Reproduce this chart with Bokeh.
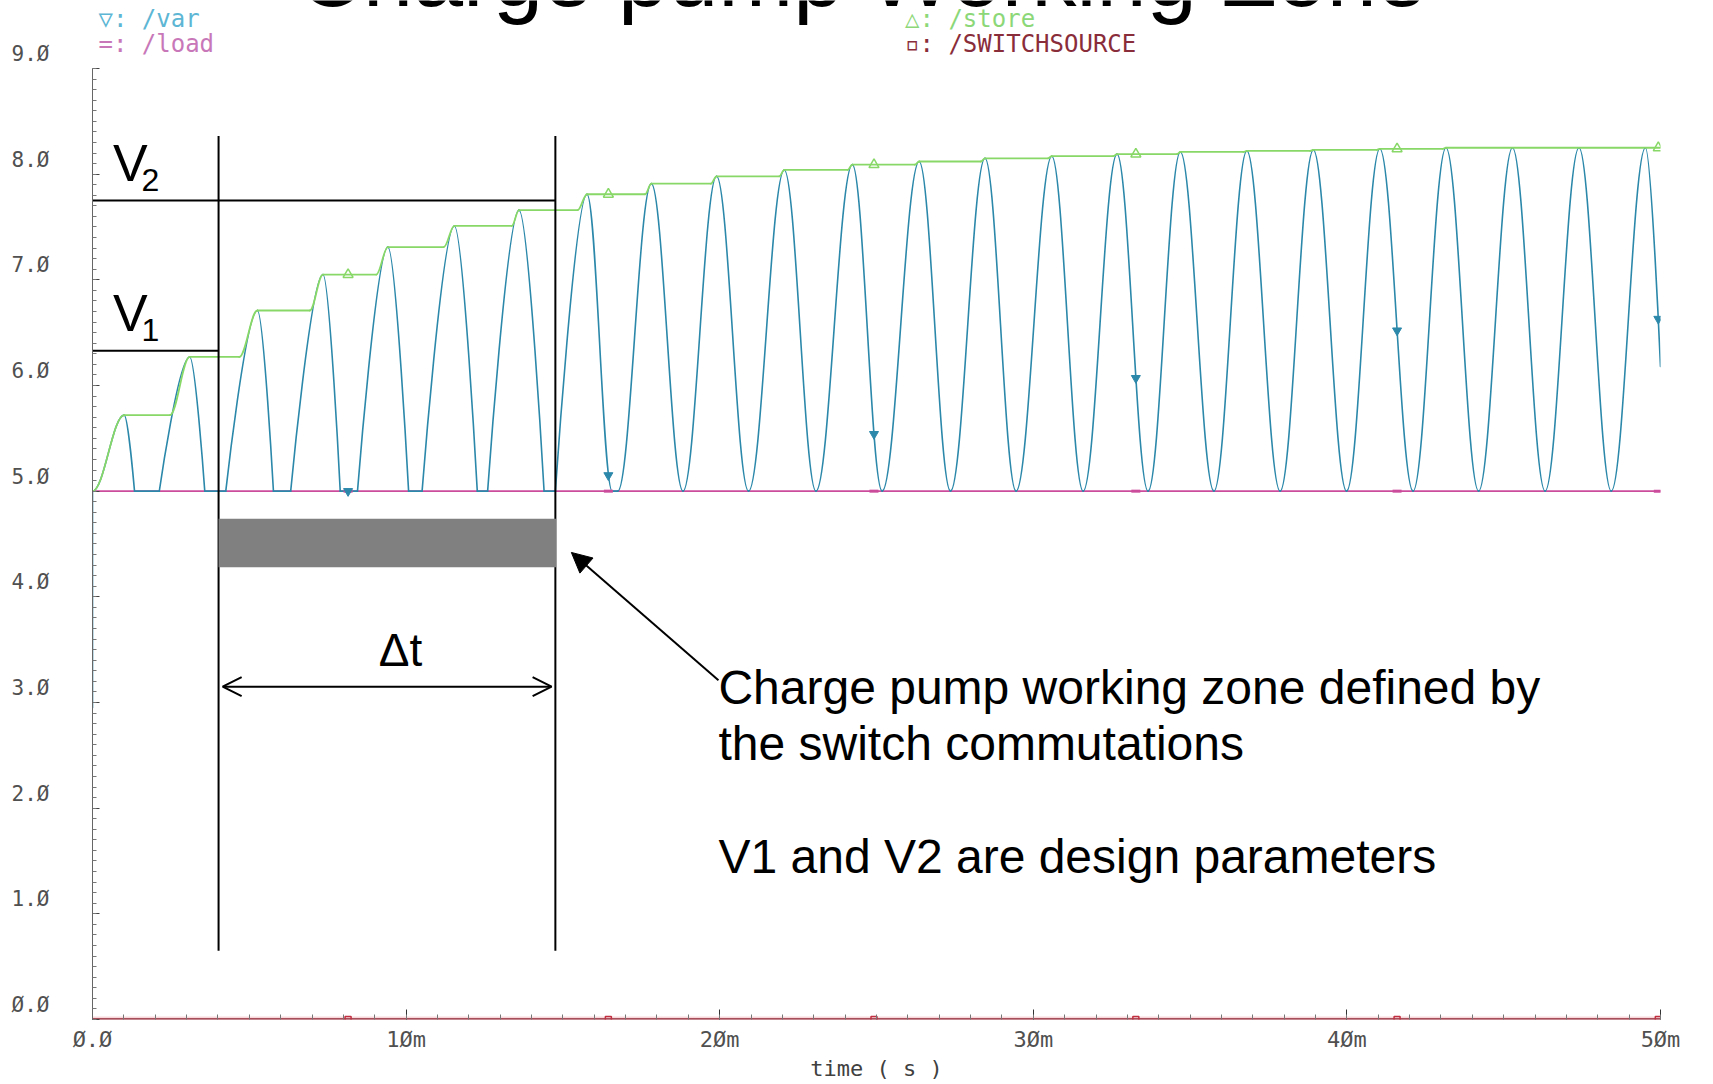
import numpy as np
from bokeh.plotting import figure
from bokeh.models import (Range1d, FixedTicker, Label, Arrow, OpenHead, NormalHead,
                          ColumnDataSource)
from bokeh.embed import file_html
from bokeh.resources import INLINE

# ---------------- data (time in ms, voltage in V): extrema / corners ----------------
var_t = [0.0, 0.0, 1.01, 1.34, 2.13, 3.10, 3.58, 4.25, 5.26, 5.77, 6.32, 7.35, 7.90, 8.45,
         9.42, 10.08, 10.51, 11.54, 12.27, 12.60, 13.60, 14.40, 14.76, 15.77, 16.57, 16.75,
         17.82, 18.83, 19.90, 20.92, 22.06, 23.07, 24.23, 25.18, 26.36, 27.36, 28.46, 29.45,
         30.59, 31.59, 32.67, 33.66, 34.69, 35.76, 36.81, 37.87, 38.93, 39.99, 41.05, 42.11,
         43.16, 44.20, 45.28, 46.32, 47.40, 48.43, 49.52, 50.00]
var_v = [2.95, 5.00, 5.72, 5.00, 5.00, 6.27, 5.00, 5.00, 6.71, 5.00, 5.00, 7.05, 5.00, 5.00,
         7.31, 5.00, 5.00, 7.51, 5.00, 5.00, 7.66, 5.00, 5.00, 7.81, 5.00, 5.00,
         7.91, 5.00, 7.98, 5.00, 8.04, 5.00, 8.09, 5.00, 8.12, 5.00, 8.15, 5.00,
         8.17, 5.00, 8.19, 5.00, 8.21, 5.00, 8.22, 5.00, 8.23, 5.00, 8.24, 5.00,
         8.25, 5.00, 8.25, 5.00, 8.25, 5.00, 8.25, 6.18]

store_t = [0.0, 1.01, 2.47, 3.10, 4.68, 5.26, 6.93, 7.35, 9.05, 9.42, 11.20, 11.54, 13.37, 13.60,
           15.47, 15.77, 17.62, 17.82, 19.72, 19.90, 21.90, 22.06, 24.08, 24.23, 26.22, 26.36,
           28.33, 28.46, 30.47, 30.59, 32.55, 32.67, 34.58, 34.69, 36.70, 36.81, 38.83, 38.93,
           40.95, 41.05, 43.06, 43.16, 50.0]
store_v = [5.00, 5.72, 5.72, 6.27, 6.27, 6.71, 6.71, 7.05, 7.05, 7.31, 7.31, 7.51, 7.51, 7.66,
           7.66, 7.81, 7.81, 7.91, 7.91, 7.98, 7.98, 8.04, 8.04, 8.09, 8.09, 8.12,
           8.12, 8.15, 8.15, 8.17, 8.17, 8.19, 8.19, 8.21, 8.21, 8.22, 8.22, 8.23,
           8.23, 8.24, 8.24, 8.25, 8.25]

load_t = [0.0, 50.0]
load_v = [5.0, 5.0]
switch_t = [0.0, 50.0]
switch_v = [0.0, 0.0]

marker_t = [8.15, 16.45, 24.92, 33.27, 41.60, 49.93]
var_marker_v = [5.00, 5.15, 5.54, 6.07, 6.52, 6.63]
store_marker_v = [7.05, 7.81, 8.09, 8.19, 8.24, 8.25]
load_marker_v = [5.0, 5.0, 5.0, 5.0, 5.0, 5.0]
switch_marker_v = [0.0, 0.0, 0.0, 0.0, 0.0, 0.0]

x_ticks = [0, 10, 20, 30, 40, 50]
x_labels = ["Ø.Ø", "1Øm", "2Øm", "3Øm", "4Øm", "5Øm"]
y_ticks = [0, 1, 2, 3, 4, 5, 6, 7, 8, 9]
y_labels = ["Ø.Ø", "1.Ø", "2.Ø", "3.Ø", "4.Ø", "5.Ø", "6.Ø", "7.Ø", "8.Ø", "9.Ø"]

# annotation parameters (data units)
V1_LEVEL, V2_LEVEL = 6.33, 7.75
T_START, T_END = 4.02, 14.76
ZONE_TOP, ZONE_BOTTOM = 8.36, 0.65
BAR_TOP, BAR_BOTTOM = 4.74, 4.28
DT_LEVEL = 3.15

assert len(var_t) == len(var_v)
assert len(store_t) == len(store_v)

VAR_C = "#2C88AA"
STORE_C = "#88D868"
LOAD_C = "#CC4C9C"
SW_C = "#8E2232"
TXT = "#505050"
MONO = "DejaVu Sans Mono"
SANS = "Liberation Sans"

Y_TOP = 9.0 + 68.0 / 105.67   # room above the 9 V tick for legend / title

p = figure(width=1713, height=1084, output_backend="svg", toolbar_location=None,
           x_range=Range1d(0, 50), y_range=Range1d(0, Y_TOP),
           min_border_left=92, min_border_right=53, min_border_top=0, min_border_bottom=65)
p.outline_line_color = None
p.xgrid.visible = False
p.ygrid.visible = False
p.background_fill_color = "white"
p.border_fill_color = "white"

# ---------------- axes ----------------
xa = p.xaxis[0]
xa.ticker = FixedTicker(ticks=x_ticks, minor_ticks=list(np.arange(0, 50.5, 1.0)))
xa.major_label_overrides = {t: l for t, l in zip(x_ticks, x_labels)}
xa.axis_line_color = None
xa.major_tick_in, xa.major_tick_out = 10, 0
xa.minor_tick_in, xa.minor_tick_out = 5, 0
xa.major_tick_line_color = "#333333"
xa.minor_tick_line_color = "#777777"
xa.major_label_text_font = MONO
xa.major_label_text_font_size = "22px"
xa.major_label_text_color = TXT
xa.major_label_standoff = 7
xa.axis_label = "time ( s )"
xa.axis_label_text_font = MONO
xa.axis_label_text_font_style = "normal"
xa.axis_label_text_font_size = "22px"
xa.axis_label_text_color = "#404040"
xa.axis_label_standoff = 1

ya = p.yaxis[0]
ya.bounds = (0, 9)
ya.ticker = FixedTicker(ticks=y_ticks, minor_ticks=list(np.round(np.arange(0, 9.05, 0.1), 2)))
ya.major_label_overrides = {t: l + "\n" for t, l in zip(y_ticks, y_labels)}
ya.axis_line_color = "#666666"
ya.major_tick_in, ya.major_tick_out = 7, 0
ya.minor_tick_in, ya.minor_tick_out = 4, 0
ya.major_tick_line_color = "#444444"
ya.minor_tick_line_color = "#777777"
ya.major_label_text_font = MONO
ya.major_label_text_font_size = "21px"
ya.major_label_text_color = TXT
ya.major_label_standoff = 43

# ---------------- traces (smooth segments between the read extrema) ----------------
C_SINE = 0.3642
LONG_FLAT = 0.3   # a clipped (flat) stretch at least this long meets the slope with a sharp corner

def smooth_source(ts, vs, open_end=False, sharp_corners=False):
    d = {k: [] for k in ("x0", "y0", "x1", "y1", "cx0", "cy0", "cx1", "cy1")}
    n = len(ts)

    def long_flat(j):
        return 0 <= j < n - 1 and vs[j] == vs[j + 1] and (ts[j + 1] - ts[j]) >= LONG_FLAT

    for i in range(n - 1):
        a, b, va, vb = ts[i], ts[i + 1], vs[i], vs[i + 1]
        w = b - a
        c0 = 0.0 if (sharp_corners and va != vb and long_flat(i - 1)) else C_SINE
        c1 = 0.0 if (sharp_corners and va != vb and long_flat(i + 1)) else C_SINE
        if open_end and i == n - 2:
            c1 = 0.0
        d["x0"].append(a); d["y0"].append(va); d["x1"].append(b); d["y1"].append(vb)
        d["cx0"].append(a + c0 * w); d["cy0"].append(va)
        d["cx1"].append(b - c1 * w); d["cy1"].append(vb)
    return ColumnDataSource(d)

BZ = dict(x0="x0", y0="y0", x1="x1", y1="y1", cx0="cx0", cy0="cy0", cx1="cx1", cy1="cy1")

p.line(switch_t, switch_v, line_color="#F0A8B0", line_width=6, line_alpha=0.45)
p.line(switch_t, switch_v, line_color=SW_C, line_width=2.4)
p.line(load_t, load_v, line_color=LOAD_C, line_width=1.6)
p.bezier(source=smooth_source(var_t, var_v, open_end=True, sharp_corners=True),
         line_color=VAR_C, line_width=1.6, line_cap="round", **BZ)
p.bezier(source=smooth_source(store_t, store_v), line_color=STORE_C,
         line_width=1.8, line_cap="round", **BZ)

p.scatter(marker_t, switch_marker_v, marker="square", size=6, fill_color=None,
          line_color="#C03040", line_width=1.5)
p.scatter(marker_t, load_marker_v, marker="dash", size=9, line_color=LOAD_C, line_width=3)
p.scatter(marker_t, var_marker_v, marker="inverted_triangle", size=9,
          fill_color=VAR_C, line_color=VAR_C)
p.scatter(marker_t, store_marker_v, marker="triangle", size=10, fill_color=None,
          line_color=STORE_C, line_width=1.5)

# ---------------- annotations ----------------
p.segment(x0=[0, 0], y0=[V1_LEVEL, V2_LEVEL], x1=[T_START, T_END], y1=[V1_LEVEL, V2_LEVEL],
          line_color="black", line_width=2)
p.segment(x0=[T_START, T_END], y0=[ZONE_BOTTOM, ZONE_BOTTOM], x1=[T_START, T_END],
          y1=[ZONE_TOP, ZONE_TOP], line_color="black", line_width=2)
p.quad(left=[T_START], right=[T_END + 0.02], bottom=[BAR_BOTTOM], top=[BAR_TOP],
       fill_color="#808080", line_color=None)

p.add_layout(Arrow(start=OpenHead(size=19, line_width=2, line_color="black"),
                   end=OpenHead(size=19, line_width=2, line_color="black"),
                   x_start=T_START + 0.13, y_start=DT_LEVEL, x_end=T_END - 0.12, y_end=DT_LEVEL,
                   line_width=2, line_color="black"))
p.add_layout(Arrow(end=NormalHead(size=20, fill_color="black", line_color="black"),
                   x_start=19.96, y_start=3.21, x_end=15.27, y_end=4.42,
                   line_width=2, line_color="black"))

def lab(x, y, text, size, font=SANS, color="black", align="left"):
    p.add_layout(Label(x=x, y=y, text=text, text_font=font, text_font_size=size,
                       text_color=color, text_align=align, text_baseline="alphabetic"))

lab(0.65, 8.108, "V", "52px")
lab(1.56, 7.942, "2", "32px")
lab(0.65, 6.689, "V", "52px")
lab(1.56, 6.522, "1", "32px")
lab(9.82, 3.497, "Δt", "46px", align="center")
lab(19.96, 3.144, "Charge pump working zone defined by", "48px")
lab(19.96, 2.614, "the switch commutations", "48px")
lab(19.96, 1.544, "V1 and V2 are design parameters", "48px")

# slide title, partly cut by the top edge as in the reference
lab(24.55, 9.882, "Charge pump Working Zone", "90px", align="center")

# Cadence trace legend
lab(0.19, 9.472, "▽: /var", "24px", font=MONO, color="#5DB6D4")
lab(0.19, 9.232, "=: /load", "24px", font=MONO, color="#C878B8")
lab(25.91, 9.472, "△: /store", "24px", font=MONO, color="#8CD878")
lab(25.91, 9.232, "▫: /SWITCHSOURCE", "24px", font=MONO, color="#8A2D3A")

open("out.html", "w").write(file_html(p, INLINE))
